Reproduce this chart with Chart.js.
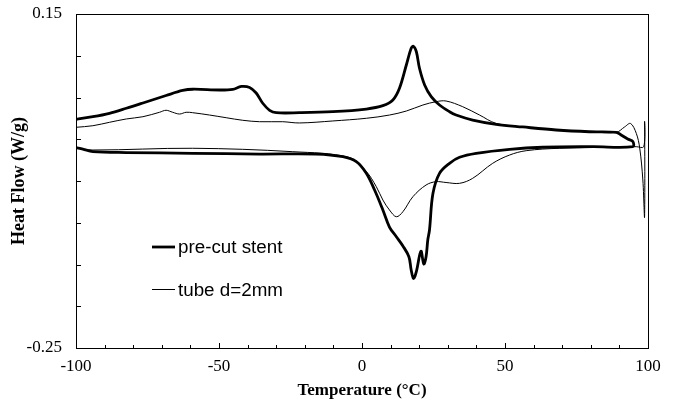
<!DOCTYPE html>
<html>
<head>
<meta charset="utf-8">
<script src="https://cdn.jsdelivr.net/npm/chart.js@4/dist/chart.umd.min.js"></script>
<style>
html,body{margin:0;padding:0;background:#fff;}
#c{display:block;}
</style>
</head>
<body>
<canvas id="c" width="681" height="407" style="width:681px;height:407px"></canvas>
<script>
// ---- Data (Temperature °C, Heat Flow W/g) ----
const seriesLabels = ['pre-cut stent', 'tube d=2mm'];

const stentHeatT  = [-100,-94.1,-88.3,-82.4,-76.6,-68.5,-62.7,-59.2,-49.8,-45.2,-42.2,-39.3,-37.0,-34.7,-32.3,-30.0,-21.9,-10.2,1.5,7.3,10.8,13.1,15.5,17.2,18.0,19.0,20.1,21.9,24.2,27.1,30.6,32.9,38.7,46.9,56.2,67.9,79.5,88.9,90.6,92.9,94.7];
const stentHeatHF = [0.0239,0.0270,0.0311,0.0371,0.0434,0.0524,0.0584,0.0599,0.0590,0.0598,0.0632,0.0620,0.0554,0.0431,0.0347,0.0318,0.0318,0.0330,0.0362,0.0402,0.0470,0.0610,0.0889,0.1089,0.1113,0.1049,0.0850,0.0650,0.0510,0.0410,0.0330,0.0290,0.0230,0.0179,0.0147,0.0111,0.0090,0.0083,0.0051,0.0003,-0.0027];

const stentCoolT  = [94.7,80.7,63.2,51.6,39.9,34.1,30.6,27.1,24.8,23.6,23.0,22.4,21.6,20.6,19.0,18.0,17.2,16.4,14.3,12.0,9.6,7.3,4.4,1.5,-2.0,-6.7,-16.0,-35.8,-59.2,-82.4,-94.1,-97.6,-100];
const stentCoolHF = [-0.0089,-0.0089,-0.0096,-0.0120,-0.0168,-0.0216,-0.0288,-0.0408,-0.0650,-0.1087,-0.1207,-0.1407,-0.1494,-0.1340,-0.1586,-0.1668,-0.1566,-0.1407,-0.1278,-0.1167,-0.1051,-0.0847,-0.0608,-0.0408,-0.0269,-0.0209,-0.0177,-0.0177,-0.0168,-0.0159,-0.0147,-0.0117,-0.0099];

const tubeHeatT  = [-100,-94.1,-88.3,-82.4,-76.6,-70.8,-68.5,-66.2,-63.8,-61.5,-59.2,-53.3,-47.5,-41.7,-35.8,-27.7,-21.9,-10.2,1.5,9.6,15.5,21.3,25.9,29.4,35.2,41.1,46.9,56.2,67.9,79.5,88.9,91.8,93.9,95.9,97.1,98.2,98.8];
const tubeHeatHF = [0.0143,0.0162,0.0203,0.0243,0.0270,0.0323,0.0347,0.0323,0.0302,0.0323,0.0318,0.0290,0.0258,0.0227,0.0210,0.0210,0.0195,0.0219,0.0251,0.0290,0.0338,0.0410,0.0450,0.0458,0.0390,0.0290,0.0190,0.0147,0.0111,0.0090,0.0083,0.0147,0.0189,0.0071,-0.0105,-0.0488,-0.0931];

const tubeCoolT  = [98.8,98.5,95.9,92.4,69.1,57.4,51.6,45.7,38.7,34.1,29.4,25.9,22.4,17.8,14.3,12.0,9.6,7.3,5.0,1.5,-4.4,-24.2,-59.2,-94.1,-100];
const tubeCoolHF = [0.0207,-0.0089,-0.0089,-0.0089,-0.0108,-0.0137,-0.0189,-0.0288,-0.0468,-0.0528,-0.0518,-0.0508,-0.0548,-0.0688,-0.0868,-0.0928,-0.0847,-0.0728,-0.0568,-0.0386,-0.0219,-0.0149,-0.0108,-0.0129,-0.0105];

const xMin = -100, xMax = 100, xStep = 10, xLabelEvery = 50;
const yMin = -0.25, yMax = 0.15, yStep = 0.05;
const yLabelValues = [0.15, -0.25];

// ---- helpers ----
function pts(xs, ys){ return xs.map((x,i)=>({x:x, y:ys[i]})); }

const framePlugin = {
  id:'frame',
  afterDraw(chart){
    const {ctx, chartArea:{left,top,right,bottom}, scales:{x,y}} = chart;
    ctx.save();
    ctx.strokeStyle = '#000';
    ctx.lineWidth = 1;
    ctx.strokeRect(left+0.5, top+0.5, right-left, bottom-top);
    ctx.beginPath();
    x.ticks.forEach(t=>{
      const px = Math.round(x.getPixelForValue(t.value)) + 0.5;
      const len = (t.label !== '' ) ? 5 : 3;
      ctx.moveTo(px, bottom);
      ctx.lineTo(px, bottom - len);
    });
    y.ticks.forEach(t=>{
      const py = Math.round(y.getPixelForValue(t.value)) + 0.5;
      ctx.moveTo(left, py);
      ctx.lineTo(left + 5, py);
    });
    ctx.stroke();
    // legend inside plot
    const lx = left + 76, ly = top + 233, gap = 42.5;
    chart.data.datasets.forEach((ds,i)=>{
      const yy = ly + i*gap;
      ctx.beginPath();
      ctx.strokeStyle = ds.borderColor;
      ctx.lineWidth = ds.borderWidth;
      ctx.moveTo(lx, yy);
      ctx.lineTo(lx + 23, yy);
      ctx.stroke();
      ctx.fillStyle = '#000';
      ctx.font = '18.8px "Liberation Sans", Arial, sans-serif';
      ctx.textBaseline = 'middle';
      ctx.textAlign = 'left';
      ctx.fillText(ds.label, lx + 26, yy + 1);
    });
    ctx.restore();
  }
};

new Chart(document.getElementById('c'), {
  type:'scatter',
  data:{
    datasets:[
      {label:seriesLabels[0], data:pts(stentHeatT, stentHeatHF).concat(pts(stentCoolT, stentCoolHF)),
       showLine:true, borderColor:'#000', borderWidth:2.8, pointRadius:0, tension:0.35, fill:false},
      {label:seriesLabels[1], data:pts(tubeHeatT, tubeHeatHF).concat(pts(tubeCoolT, tubeCoolHF)),
       showLine:true, borderColor:'#000', borderWidth:1, pointRadius:0, tension:0.35, fill:false}
    ]
  },
  options:{
    responsive:false,
    animation:false,
    devicePixelRatio:1,
    layout:{padding:{left:0, right:33, top:14, bottom:0}},
    plugins:{legend:{display:false}, tooltip:{enabled:false}},
    scales:{
      x:{
        type:'linear', min:xMin, max:xMax,
        ticks:{stepSize:xStep, autoSkip:false, maxRotation:0, padding:8, color:'#000',
               font:{family:'"Liberation Serif", "Times New Roman", serif', size:17},
               callback:(v)=> (Math.abs(v % xLabelEvery) < 1e-9) ? String(v) : ''},
        grid:{display:false, drawTicks:false},
        border:{display:false},
        title:{display:true, text:'Temperature (°C)', color:'#000',
               font:{family:'"Liberation Serif", "Times New Roman", serif', size:17, weight:'bold'},
               padding:{top:0, bottom:6}},
        afterFit:(s)=>{ s.height = 59; s.paddingLeft = 0; s.paddingRight = 0; }
      },
      y:{
        type:'linear', min:yMin, max:yMax,
        ticks:{stepSize:yStep, padding:14, color:'#000',
               font:{family:'"Liberation Serif", "Times New Roman", serif', size:17},
               callback:(v)=> yLabelValues.some(l=>Math.abs(l-v)<1e-9) ? v.toFixed(2) : ''},
        grid:{display:false, drawTicks:false},
        border:{display:false},
        title:{display:true, text:'Heat Flow (W/g)', color:'#000',
               font:{family:'"Liberation Serif", "Times New Roman", serif', size:18, weight:'bold'},
               padding:{top:9, bottom:0}},
        afterFit:(s)=>{ s.width = 76; s.paddingTop = 0; s.paddingBottom = 0; }
      }
    }
  },
  plugins:[framePlugin]
});
</script>
</body>
</html>
